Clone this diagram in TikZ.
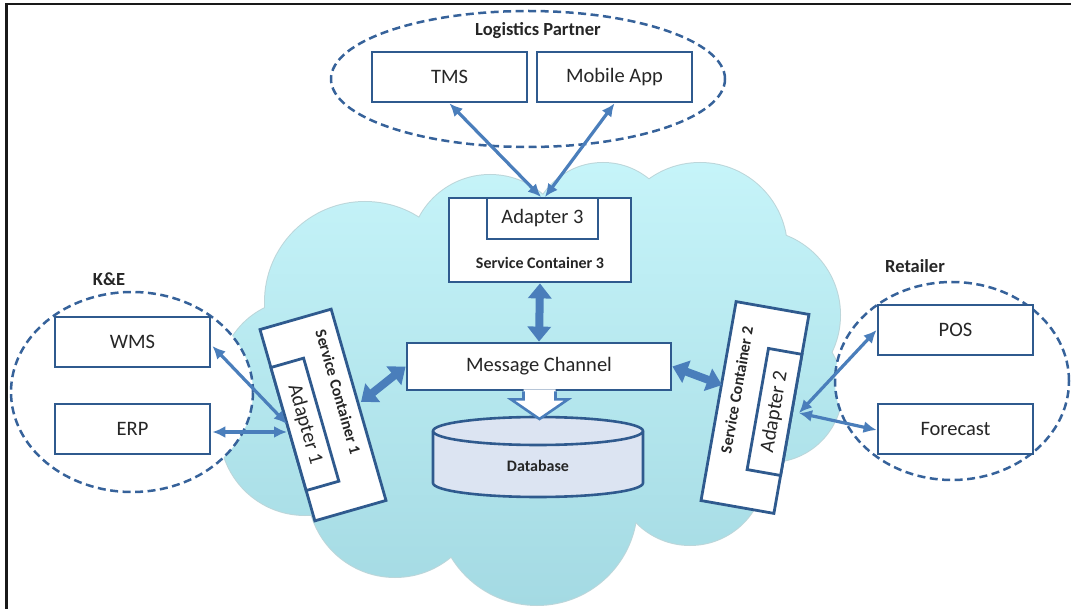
\documentclass[tikz,border=0pt]{standalone}
\usepackage{fontspec}
\setmainfont{Carlito}
\usetikzlibrary{arrows.meta,calc,shapes.geometric}
\definecolor{boxline}{HTML}{2F5A8E}
\definecolor{dashcol}{HTML}{36629A}
\definecolor{arrowcol}{HTML}{4A7EBB}
\definecolor{txt}{HTML}{262626}
\definecolor{dbfill}{HTML}{DCE4F2}
\definecolor{cloudtop}{HTML}{C6F4F9}
\definecolor{cloudbot}{HTML}{A4DAE3}
\definecolor{cloudedge}{HTML}{BCD6DA}
\begin{document}
\begin{tikzpicture}[x=1pt,y=-1pt,
  box/.style={draw=boxline, line width=2.8pt, fill=white, inner sep=0pt},
  lbl/.style={font=\fontsize{20.5}{24}\selectfont, text=txt},
  grp/.style={font=\bfseries\fontsize{18.5}{22}\selectfont, text=txt},
  small/.style={font=\bfseries\fontsize{16}{19}\selectfont, text=txt},
  group/.style={ellipse, draw=dashcol, line width=2.5pt, dash pattern=on 8pt off 4.5pt, fill=white, inner sep=0pt},
  link/.style={draw=arrowcol, line width=3.2pt, {Latex[length=13pt,width=12pt]}-{Latex[length=13pt,width=12pt]}},
  fat/.style={draw=arrowcol, line width=8pt, {Triangle[length=15pt,width=23pt]}-{Triangle[length=15pt,width=23pt]}},
  hollow/.style={draw=arrowcol, line width=2.6pt, line join=miter}
]
\useasboundingbox (0,0) rectangle (1071,609);

% frame
\draw[line width=2.6pt, black!90] (6.5,609) -- (6.5,4) -- (1071,4);

% cloud: outline under a union of filled lobes
\foreach \cx/\cy/\r in {365/302/100, 490/255/80, 603/235/72, 700/250/87, 755/315/85,
    770/390/72, 690/470/75, 537/505/100, 395/490/87, 305/430/85, 300/380/80}
  \draw[cloudedge, line width=2pt] (\cx,\cy) circle (\r pt);
\shade[top color=cloudtop, bottom color=cloudbot]
  \foreach \cx/\cy/\r in {365/302/100, 490/255/80, 603/235/72, 700/250/87, 755/315/85,
    770/390/72, 690/470/75, 537/505/100, 395/490/87, 305/430/85, 300/380/80, 540/380/170}
  {(\cx,\cy) circle (\r pt)};

% partner groups
\node[group, minimum width=394pt, minimum height=136pt] (lp) at (528,79) {};
\node[group, minimum width=242pt, minimum height=200pt] (ke) at (132,392) {};
\node[group, minimum width=234pt, minimum height=198pt] (rt) at (952,381) {};
\node[grp] (lplbl) at (538,31) {Logistics Partner};
\node[grp] (kelbl) at (109,279) {K\&E};
\node[grp] (rtlbl) at (915,266) {Retailer};

% partner systems
\node[box, lbl, minimum width=155pt, minimum height=50pt] (tms) at (449.5,77) {TMS};
\node[box, lbl, minimum width=155pt, minimum height=50pt] (mob) at (614.5,77) {Mobile App};
\node[box, lbl, minimum width=155pt, minimum height=50pt] (wms) at (132.5,342) {WMS};
\node[box, lbl, minimum width=155pt, minimum height=50pt] (erp) at (132.5,429) {ERP};
\node[box, lbl, minimum width=155pt, minimum height=50pt] (pos) at (955.5,330) {POS};
\node[box, lbl, minimum width=155pt, minimum height=50pt] (fc) at (955.5,429) {Forecast};

% service container 3
\node[box, minimum width=182pt, minimum height=84pt] (sc3) at (540,240) {};
\node[box, lbl, minimum width=111pt, minimum height=41pt] (ad3) at (542.5,218.5) {Adapter 3};
\node[small] (sc3lbl) at (540,263) {Service Container 3};

% message channel
\node[box, lbl, minimum width=264pt, minimum height=47pt] (mc) at (539,366.5) {Message Channel};

% database
\path[draw=boxline, line width=2.6pt, fill=dbfill] (433,431) -- (433,483)
  arc[start angle=180, end angle=360, x radius=105pt, y radius=14pt] -- (643,431)
  arc[start angle=0, end angle=180, x radius=105pt, y radius=14pt] -- cycle;
\draw[boxline, line width=2.6pt] (433,431)
  arc[start angle=180, end angle=360, x radius=105pt, y radius=14pt];
\node[small] (db) at (538,466) {Database};
\coordinate (dbtop) at (539.5,419);

% service container 1
\begin{scope}[shift={(323,415)}, rotate=16]
  \node[box, rotate=-74, minimum width=199pt, minimum height=74pt] (sc1) at (0,0) {};
  \node[box, lbl, rotate=-74, minimum width=128pt, minimum height=34pt] (ad1) at (-20,4) {Adapter 1};
  \node[small, rotate=-74, inner sep=0pt] (sc1lbl) at (21,-18) {Service Container 1};
\end{scope}

% service container 2
\begin{scope}[shift={(755,407.5)}, rotate=-10]
  \node[box, rotate=80, minimum width=202pt, minimum height=74pt] (sc2) at (0,0) {};
  \node[box, lbl, rotate=80, minimum width=123pt, minimum height=34pt] (ad2) at (20,1) {Adapter 2};
  \node[small, rotate=80, inner sep=0pt] (sc2lbl) at (-21,-14) {Service Container 2};
\end{scope}

% connector ends on the containers
\coordinate (a3l) at (541,197);
\coordinate (a3r) at (545,197);
\coordinate (ad1a) at (287,424);
\coordinate (ad1b) at (287,432);
\coordinate (ad2r) at (799,413);
\coordinate (sc1r) at (361,402);
\coordinate (sc2l) at (722,385);

% partner links
\draw[link] (tms.south) -- (a3l);
\draw[link] (mob.south) -- (a3r);
\draw[link] ($(wms.east)+(1,4)$) -- (ad1a);
\draw[link] ($(erp.east)+(1,3)$) -- (ad1b);
\draw[link] (pos.west) -- (ad2r);
\draw[link] ($(fc.west)+(0,1)$) -- (ad2r);

% bus links
\draw[fat] (sc3.south) -- (mc.north);
\draw[fat] (mc.west) -- (sc1r);
\draw[fat] (mc.east) -- (sc2l);

% channel to database
\fill[white] ($(mc.south)+(-15.5,-2)$) -- ($(mc.south)+(-15.5,8)$) -- ($(mc.south)+(-28,8)$)
  -- (dbtop) -- ($(mc.south)+(29,8)$) -- ($(mc.south)+(16.5,8)$) -- ($(mc.south)+(16.5,-2)$) -- cycle;
\draw[hollow] ($(mc.south)+(-15.5,0)$) -- ($(mc.south)+(-15.5,8)$) -- ($(mc.south)+(-28,8)$)
  -- (dbtop) -- ($(mc.south)+(29,8)$) -- ($(mc.south)+(16.5,8)$) -- ($(mc.south)+(16.5,0)$);
\end{tikzpicture}
\end{document}
